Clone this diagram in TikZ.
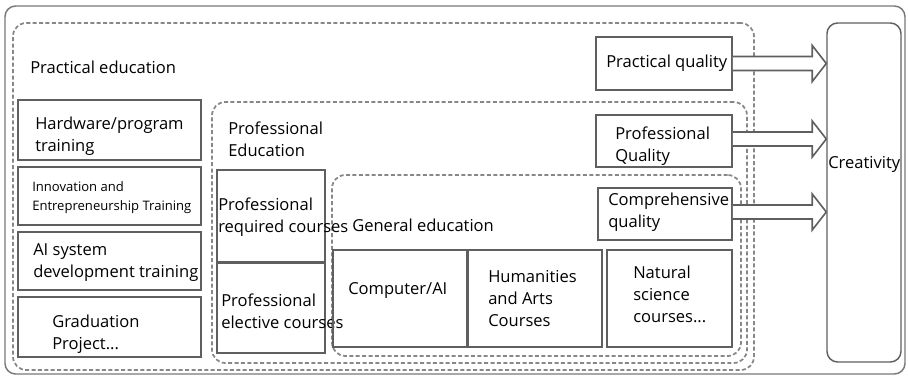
\documentclass[tikz,border=0pt]{standalone}
\usepackage{fontspec}
\setmainfont{Open Sans}
\usetikzlibrary{fit,calc}
\definecolor{boxline}{RGB}{95,95,95}
\definecolor{dashline}{RGB}{135,135,135}
\definecolor{outline}{RGB}{120,120,120}
\begin{document}
\begin{tikzpicture}[x=0.75pt,y=-0.75pt,
  box/.style={draw=boxline, line width=1.4pt, inner sep=0pt},
  region/.style={draw=dashline, line width=1.3pt, dash pattern=on 3pt off 1.8pt, rounded corners=10pt, inner sep=0pt},
  txt/.style={anchor=west, inner sep=0pt, align=left, font=\fontsize{12.4}{16.5}\selectfont},
  small/.style={anchor=west, inner sep=0pt, align=left, font=\fontsize{9.8}{14}\selectfont},
  fatarrow/.style={draw=boxline, fill=white, line width=1.2pt, line join=miter}]
\useasboundingbox (0,0) rectangle (908,378);

% outer frame and the creativity column
\node[draw=outline, line width=1.1pt, rounded corners=8pt, inner sep=0pt, fit={(5,6) (905,374)}] (frame) {};
\node[draw=boxline, line width=1.1pt, rounded corners=8pt, inner sep=0pt, fit={(827,23) (901,362)}] (cr) {};
\node[txt] (crt) at (828,164) {Creativity};

% nested education regions
\node[region, fit={(13,23) (754,370)}] (pe) {};
\node[region, fit={(212,102) (747,363)}] (prof) {};
\node[region, fit={(332,175) (741,356)}] (gen) {};

\node[txt] (pet) at (30,67) {Practical education};
\node[txt] (proft) at (228,139) {Professional\\Education};
\node[txt] (gent) at (352,225) {General education};

% practical training blocks
\node[box, fit={(18,100) (201,160)}] (hw) {};
\node[box, fit={(18,167) (201,225)}] (inn) {};
\node[box, fit={(18,232) (201,290)}] (ai) {};
\node[box, fit={(18,297) (201,357)}] (gp) {};
\node[txt] (hwt) at (35,136) {Hardware/program\\training};
\node[small] (innt) at (32,197.5) {Innovation and\\Entrepreneurship Training};
\node[txt] (ait) at (33,263) {AI system\\development training};
\node[txt] (gpt) at (52,334) {Graduation\\Project...};

% professional courses
\node[box, fit={(217,170) (325,262)}] (req) {};
\node[box, fit={(217,263) (325,353)}] (ele) {};
\node[txt] (reqt) at (218,217) {Professional\\required courses};
\node[txt] (elet) at (221,311) {Professional\\elective courses};

% general courses
\node[box, fit={(333,250) (467,347)}] (cs) {};
\node[box, fit={(468,250) (602,347)}] (hum) {};
\node[box, fit={(607,250) (732,347)}] (nat) {};
\node[txt] (cst) at (348,290) {Computer/AI};
\node[txt] (humt) at (488,299) {Humanities\\and Arts\\Courses};
\node[txt] (natt) at (633,294) {Natural\\science\\courses...};

% qualities
\node[box, fill=white, fit={(596,37) (732,90)}] (pq) {};
\node[box, fill=white, fit={(596,115) (732,167)}] (fq) {};
\node[box, fill=white, fit={(598,188) (732,240)}] (cq) {};
\node[txt] (pqt) at (606,63) {Practical quality};
\node[txt] (fqt) at (615,146) {Professional\\Quality};
\node[txt] (cqt) at (608,212) {Comprehensive\\quality};

% hollow arrows into creativity
\foreach \q/\dy in {pq/0, fq/-2, cq/-2} {
  \draw[fatarrow]
    ($(\q.east)+(0,\dy-7)$) -- ($(cr.west|-\q.east)+(-14,\dy-7)$) -- ($(cr.west|-\q.east)+(-14,\dy-18)$)
    -- ($(cr.west|-\q.east)+(0,\dy)$)
    -- ($(cr.west|-\q.east)+(-14,\dy+18)$) -- ($(cr.west|-\q.east)+(-14,\dy+7)$) -- ($(\q.east)+(0,\dy+7)$);
}
\end{tikzpicture}
\end{document}
